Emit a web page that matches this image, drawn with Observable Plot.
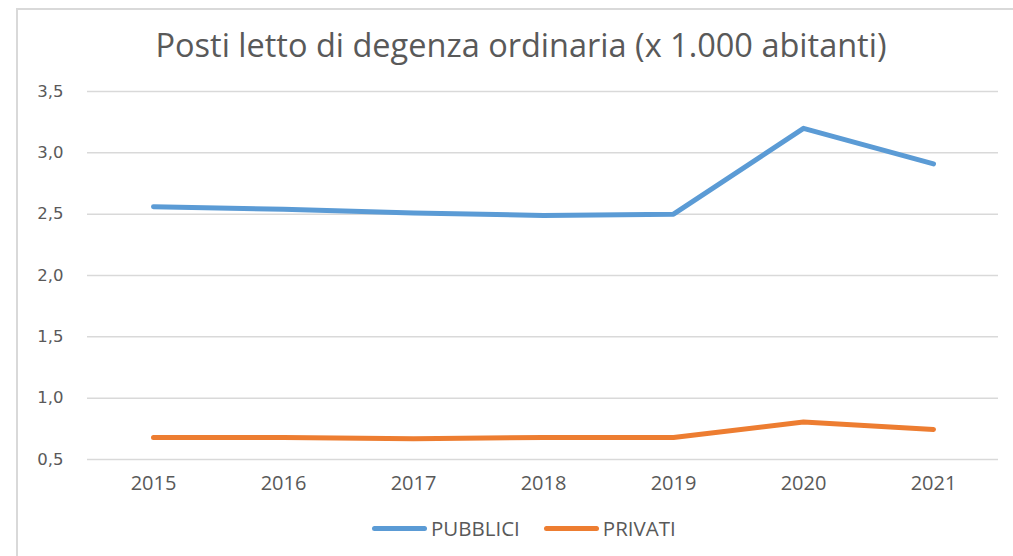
<!DOCTYPE html>
<html><head><meta charset="utf-8">
<script src="https://cdn.jsdelivr.net/npm/d3@7"></script>
<script src="https://cdn.jsdelivr.net/npm/@observablehq/plot@0.6"></script>
<style>
body{margin:0;background:#fff;width:1013px;height:556px;overflow:hidden;position:relative;}
#frame{position:absolute;left:16px;top:8px;width:1010px;height:560px;border-top:2px solid #d9d9d9;border-left:2px solid #d9d9d9;box-sizing:border-box;}
#title{position:absolute;left:0;top:22px;width:1042px;text-align:center;font-family:"Open Sans";font-size:32.5px;color:#595959;white-space:nowrap;}
#chart{position:absolute;left:0;top:70px;}
#legend{position:absolute;left:372px;top:514px;display:flex;align-items:center;font-family:"Open Sans";font-size:20.5px;color:#595959;}
.sw{width:55px;height:5px;border-radius:3px;margin-right:4px;}
.item{display:flex;align-items:center;margin-right:24px;}
</style></head>
<body>
<div id="frame"></div>
<div id="title">Posti letto di degenza ordinaria (x 1.000 abitanti)</div>
<div id="chart"></div>
<div id="legend"></div>
<script>
const years = ["2015","2016","2017","2018","2019","2020","2021"];
const pubblici = [2.56, 2.54, 2.51, 2.49, 2.50, 3.20, 2.91];
const privati = [0.68, 0.68, 0.67, 0.68, 0.68, 0.805, 0.745];
const yTicks = [0.5, 1.0, 1.5, 2.0, 2.5, 3.0, 3.5];
const seriesNames = ["PUBBLICI", "PRIVATI"];
const seriesColors = ["#5b9bd5", "#ed7d31"];

const data = [
  ...years.map((y, i) => ({year: y, value: pubblici[i], serie: seriesNames[0]})),
  ...years.map((y, i) => ({year: y, value: privati[i], serie: seriesNames[1]}))
];

const chart = Plot.plot({
  width: 1013,
  height: 430,
  marginTop: 21,
  marginBottom: 41,
  marginLeft: 87,
  marginRight: 15,
  x: {type: "point", domain: years, padding: 0.5},
  y: {domain: [0.5, 3.5]},
  color: {domain: seriesNames, range: seriesColors},
  style: {background: "transparent", overflow: "visible"},
  marks: [
    Plot.ruleY(yTicks, {stroke: "#d9d9d9", strokeWidth: 1.5}),
    Plot.axisX({tickSize: 0, tickPadding: 16, fontSize: 20, fontFamily: "Open Sans", fill: "#595959", label: null}),
    Plot.axisY({ticks: yTicks, tickSize: 0, tickPadding: 24, fontSize: 16.5, fontFamily: "DejaVu Sans", fill: "#595959", label: null,
      tickFormat: d => d.toFixed(1).replace(".", ",")}),
    Plot.line(data, {x: "year", y: "value", z: "serie", stroke: "serie", strokeWidth: 5, strokeLinecap: "round", strokeLinejoin: "round"})
  ]
});
document.getElementById("chart").appendChild(chart);

const legend = document.getElementById("legend");
seriesNames.forEach((name, i) => {
  const item = document.createElement("div");
  item.className = "item";
  const sw = document.createElement("div");
  sw.className = "sw";
  sw.style.background = seriesColors[i];
  const t = document.createElement("span");
  t.textContent = name;
  item.appendChild(sw);
  item.appendChild(t);
  legend.appendChild(item);
});
</script>
</body></html>
